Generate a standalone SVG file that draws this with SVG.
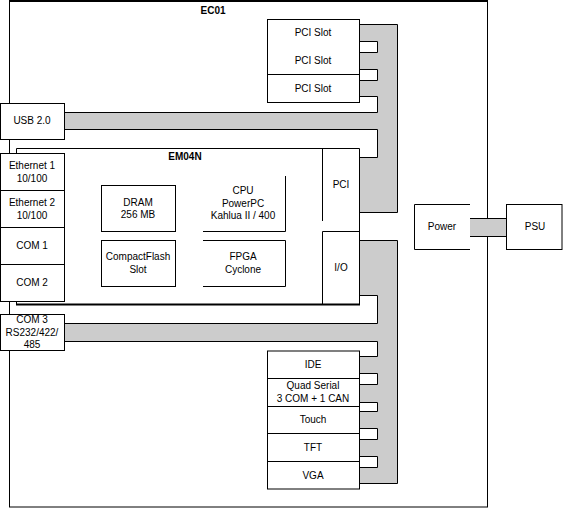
<svg xmlns="http://www.w3.org/2000/svg" width="563" height="508" viewBox="0 0 563 508">
<style>
text{font-family:"Liberation Sans",Arial,sans-serif;font-size:10px;fill:#000;text-anchor:middle}
.b{font-weight:bold}
.box{fill:#fff;stroke:#000;stroke-width:1}
.ln{fill:none;stroke:#000;stroke-width:1}
.bus{fill:#cccccc;stroke:#000;stroke-width:1}
</style>
<rect width="563" height="508" fill="#fff"/>
<g id="EC01">
<rect x="9.5" y="1.5" width="478" height="505.5" class="ln"/>
<line x1="9" y1="1" x2="488" y2="1" stroke="#000" stroke-width="2"/>
<text x="213" y="14" class="b">EC01</text>
</g>
<g id="connectors">
<path class="bus" d="M359.5,24.5 H397.5 V212.5 H359.5 V157.5 H377.5 V129.5 H64.5 V112.5 H377.5 V96.5 H359.5 V80.5 H377.5 V69.5 H359.5 V52.5 H377.5 V41.5 H359.5 Z"/>
<path class="bus" d="M359.5,240.5 H397.5 V483.5 H359.5 V467.5 H377.5 V456.5 H359.5 V439.5 H377.5 V428.5 H359.5 V411.5 H377.5 V402.5 H359.5 V384.5 H377.5 V373.5 H359.5 V356.5 H377.5 V341.5 H64.5 V323.5 H377.5 V295.5 H359.5 Z"/>
<rect x="470" y="218.5" width="36.5" height="18" fill="#cccccc"/>
<line x1="470" y1="218.5" x2="506.5" y2="218.5" class="ln"/>
<line x1="470" y1="236.5" x2="506.5" y2="236.5" class="ln"/>
</g>
<g id="PCISlots">
<rect x="267.5" y="19.5" width="92" height="83" class="box"/>
<line x1="267.5" y1="74.5" x2="359.5" y2="74.5" class="ln"/>
<text x="313" y="36">PCI Slot</text>
<text x="313" y="64">PCI Slot</text>
<text x="313" y="92">PCI Slot</text>
</g>
<g id="USB">
<rect x="0.5" y="103.5" width="64" height="36" class="box"/>
<text x="32" y="124">USB 2.0</text>
</g>
<g id="EM04N">
<path class="box" d="M16.5,304 V148.5 H359.5 V304"/>
<line x1="16" y1="304.5" x2="360" y2="304.5" stroke="#000" stroke-width="2"/>
<text x="185" y="160" class="b">EM04N</text>
<line x1="322.5" y1="148.5" x2="322.5" y2="221" class="ln"/>
<line x1="322.5" y1="231.5" x2="359.5" y2="231.5" class="ln"/>
<line x1="322.5" y1="231.5" x2="322.5" y2="304" class="ln"/>
<text x="341" y="188">PCI</text>
<text x="341" y="271">I/O</text>
</g>
<g id="DRAM">
<rect x="101.5" y="185.5" width="74" height="46" class="box"/>
<text x="138" y="206">DRAM</text>
<text x="138" y="218">256 MB</text>
</g>
<g id="CPU">
<path class="ln" d="M203,231.5 H285.5 V176"/>
<text x="243" y="194">CPU</text>
<text x="243" y="207">PowerPC</text>
<text x="243" y="219">Kahlua II / 400</text>
</g>
<g id="CompactFlash">
<rect x="101.5" y="240.5" width="74" height="46" class="box"/>
<text x="138" y="260">CompactFlash</text>
<text x="138" y="273">Slot</text>
</g>
<g id="FPGA">
<path class="ln" d="M203,240.5 H285.5 V286.5 H203"/>
<text x="243" y="260">FPGA</text>
<text x="243" y="273">Cyclone</text>
</g>
<g id="LeftPorts">
<rect x="0.5" y="153.5" width="64" height="148" class="box"/>
<line x1="0.5" y1="190.5" x2="64.5" y2="190.5" class="ln"/>
<line x1="0.5" y1="227.5" x2="64.5" y2="227.5" class="ln"/>
<line x1="0.5" y1="264.5" x2="64.5" y2="264.5" class="ln"/>
<text x="32" y="169">Ethernet 1</text>
<text x="32" y="182">10/100</text>
<text x="32" y="206">Ethernet 2</text>
<text x="32" y="219">10/100</text>
<text x="32" y="249">COM 1</text>
<text x="32" y="286">COM 2</text>
</g>
<g id="COM3">
<rect x="0.5" y="314.5" width="64" height="36" class="box"/>
<text x="32" y="323">COM 3</text>
<text x="32" y="336">RS232/422/</text>
<text x="32" y="348">485</text>
</g>
<g id="IOBoxes">
<rect x="267.5" y="351" width="92" height="138" class="box"/>
<line x1="267.5" y1="378.5" x2="359.5" y2="378.5" class="ln"/>
<line x1="267.5" y1="406.5" x2="359.5" y2="406.5" class="ln"/>
<line x1="267.5" y1="433.5" x2="359.5" y2="433.5" class="ln"/>
<line x1="267.5" y1="461.5" x2="359.5" y2="461.5" class="ln"/>
<text x="313" y="368">IDE</text>
<text x="313" y="389">Quad Serial</text>
<text x="313" y="402">3 COM + 1 CAN</text>
<text x="313" y="423">Touch</text>
<text x="313" y="451">TFT</text>
<text x="313" y="479">VGA</text>
</g>
<g id="Power">
<path class="ln" d="M470,204.5 H414.5 V249.5 H470"/>
<text x="442" y="230">Power</text>
</g>
<g id="PSU">
<rect x="506.5" y="204.5" width="55.5" height="45" class="box"/>
<text x="535" y="230">PSU</text>
</g>
</svg>
